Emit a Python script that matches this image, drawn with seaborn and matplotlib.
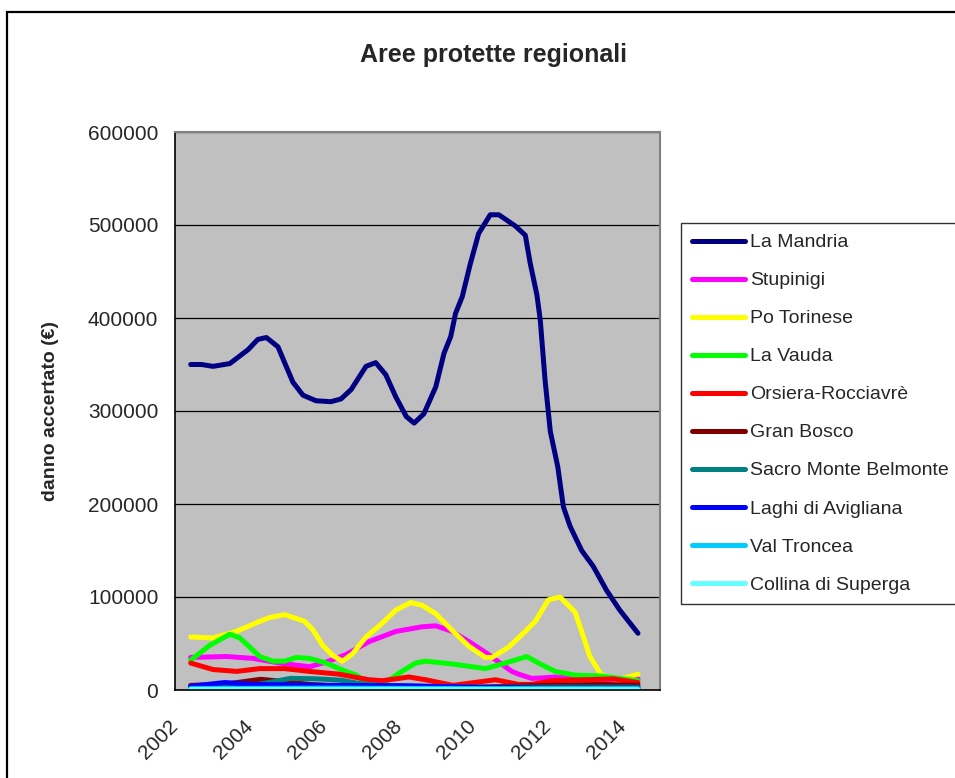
import numpy as np
import pandas as pd
import seaborn as sns
import matplotlib.pyplot as plt
from matplotlib.lines import Line2D
from matplotlib.patches import Rectangle

# --- DATI ---
aree = ['La Mandria', 'Stupinigi', 'Po Torinese', 'La Vauda', 'Orsiera-Rocciavrè',
        'Gran Bosco', 'Sacro Monte Belmonte', 'Laghi di Avigliana', 'Val Troncea',
        'Collina di Superga']
colori = ['#000080', '#FF00FF', '#FFFF00', '#00FF00', '#FF0000',
          '#800000', '#008080', '#0000FF', '#00CCFF', '#66FFFF']

mandria_anni = [2002.42, 2002.71, 2003.02, 2003.47, 2003.96, 2004.22, 2004.45, 2004.76,
                2005.16, 2005.43, 2005.78, 2006.18, 2006.45, 2006.72, 2007.12, 2007.38,
                2007.65, 2007.92, 2008.20, 2008.41, 2008.67, 2008.99, 2009.21, 2009.39,
                2009.52, 2009.70, 2009.92, 2010.14, 2010.45, 2010.68, 2011.12, 2011.39,
                2011.52, 2011.70, 2011.79, 2011.92, 2012.06, 2012.26, 2012.41, 2012.59,
                2012.90, 2013.21, 2013.57, 2013.92, 2014.41]
mandria_danno = [350000, 350000, 348000, 351000, 366000, 377000, 379000, 369000,
                 331000, 317000, 311000, 310000, 313000, 323000, 348000, 352000,
                 339000, 315000, 294000, 287000, 297000, 326000, 362000, 380000,
                 405000, 423000, 459000, 491000, 511000, 511000, 499000, 489000,
                 459000, 425000, 398000, 333000, 278000, 240000, 197000, 176000,
                 150000, 133000, 107000, 86000, 61000]

stupinigi_anni = [2002.42, 2003.38, 2004.09, 2004.80, 2005.60, 2006.05, 2006.58, 2007.20,
                  2007.92, 2008.63, 2008.99, 2009.43, 2009.88, 2010.41, 2010.68, 2011.03,
                  2011.21, 2011.56, 2011.84, 2012.19, 2012.99, 2014.41]
stupinigi_danno = [35000, 36000, 34000, 29000, 25000, 30000, 38000, 52000,
                   63000, 68000, 69000, 63000, 52000, 38000, 30000, 20000,
                   17000, 12500, 13000, 14000, 11000, 12000]

po_anni = [2002.42, 2003.02, 2003.65, 2004.22, 2004.54, 2004.94, 2005.47, 2005.69,
           2005.96, 2006.23, 2006.49, 2006.76, 2007.12, 2007.56, 2007.92, 2008.32,
           2008.63, 2008.99, 2009.43, 2009.88, 2010.32, 2010.50, 2010.94, 2011.39,
           2011.66, 2012.01, 2012.32, 2012.72, 2012.90, 2013.12, 2013.43, 2013.88,
           2014.41]
po_danno = [57000, 56000, 63000, 73000, 78000, 81000, 74000, 65000,
            48000, 37000, 31000, 39000, 57000, 72000, 86000, 94000,
            91000, 82000, 64000, 47000, 35000, 35000, 46000, 63000,
            74000, 97000, 100000, 84000, 63000, 36000, 16000, 11000,
            17000]

vauda_anni = [2002.42, 2002.93, 2003.47, 2003.74, 2004.27, 2004.62, 2004.94, 2005.25,
              2005.60, 2006.05, 2006.58, 2006.87, 2007.03, 2007.39, 2007.56, 2007.83,
              2008.00, 2008.45, 2008.72, 2009.43, 2010.32, 2010.77, 2011.43, 2011.74,
              2012.19, 2012.72, 2013.43, 2014.41]
vauda_danno = [32000, 48000, 60000, 56000, 36000, 31000, 31000, 35000,
               34000, 29000, 20000, 16000, 10000, 6000, 7000, 13000,
               18000, 29000, 31000, 28000, 23000, 28000, 36000, 29000,
               20000, 16000, 15000, 10000]

orsiera_anni = [2002.42, 2003.02, 2003.65, 2004.27, 2004.94, 2005.60, 2006.40, 2007.20,
                2007.56, 2008.27, 2008.72, 2009.45, 2010.59, 2011.21, 2011.56, 2012.10,
                2012.90, 2013.75, 2014.41]
orsiera_danno = [29000, 22000, 20000, 23000, 23000, 20000, 17000, 11000,
                 10000, 14000, 11000, 5000, 11000, 6000, 6000, 10000,
                 11000, 12000, 8000]

bosco_anni = [2002.42, 2003.30, 2004.30, 2004.94, 2005.60, 2006.50, 2008.00, 2010.00,
              2012.00, 2013.50, 2014.41]
bosco_danno = [5000, 6000, 11500, 9000, 6000, 4000, 3000, 3000, 5000, 6000, 5000]

belmonte_anni = [2002.42, 2003.50, 2004.10, 2005.10, 2005.80, 2006.45, 2006.93, 2007.47,
                 2008.50, 2010.00, 2012.00, 2014.41]
belmonte_danno = [2000, 3000, 5000, 12500, 12000, 10500, 7000, 5000, 4000, 3000, 3000, 3000]

laghi_anni = [2002.42, 2003.33, 2004.10, 2006.00, 2008.20, 2010.00, 2012.00, 2014.41]
laghi_danno = [4000, 8000, 6000, 5000, 4500, 3000, 2000, 2000]

troncea_anni = [2002.42, 2006.00, 2010.00, 2014.41]
troncea_danno = [1500, 2000, 1500, 1500]

superga_anni = [2002.42, 2008.00, 2014.41]
superga_danno = [500, 500, 300]

anni_ticks = list(range(2002, 2016))
y_ticks = [0, 100000, 200000, 300000, 400000, 500000, 600000]


def costruisci_tabella():
    serie = [(mandria_anni, mandria_danno), (stupinigi_anni, stupinigi_danno),
             (po_anni, po_danno), (vauda_anni, vauda_danno),
             (orsiera_anni, orsiera_danno), (bosco_anni, bosco_danno),
             (belmonte_anni, belmonte_danno), (laghi_anni, laghi_danno),
             (troncea_anni, troncea_danno), (superga_anni, superga_danno)]
    parti = []
    for nome, (x, y) in zip(aree, serie):
        parti.append(pd.DataFrame({'anno': x, 'danno': y, 'area': nome}))
    return pd.concat(parti, ignore_index=True)


def main():
    sns.set_style('white')
    plt.rcParams['font.family'] = ['Liberation Sans', 'DejaVu Sans']

    df = costruisci_tabella()

    fig = plt.figure(figsize=(9.55, 7.78), dpi=100)
    ax = fig.add_axes([175 / 955, 1 - 690 / 778, 485 / 955, 558 / 778])
    ax.set_facecolor('#C0C0C0')

    sns.lineplot(data=df, x='anno', y='danno', hue='area', hue_order=aree,
                 palette=dict(zip(aree, colori)), estimator=None, linewidth=3.6,
                 legend=False, ax=ax, solid_capstyle='round', solid_joinstyle='round')

    ax.set_xlim(2002, 2015)
    ax.set_ylim(0, 600000)
    ax.set_xticks(anni_ticks)
    ax.set_xticklabels([str(a) if a % 2 == 0 and a < 2015 else '' for a in anni_ticks],
                       rotation=45, ha='right', va='center', rotation_mode='anchor',
                       fontsize=15)
    ax.set_yticks(y_ticks)
    ax.set_yticklabels([str(v) for v in y_ticks], fontsize=15)
    ax.tick_params(axis='x', direction='out', length=5, width=1, color='black', pad=19)
    ax.tick_params(axis='y', direction='out', length=6, width=1, color='black', pad=6)
    ax.grid(axis='y', color='black', linewidth=0.9)
    ax.grid(axis='x', visible=False)
    ax.set_axisbelow(True)

    for lato in ['left', 'bottom']:
        ax.spines[lato].set_color('black')
        ax.spines[lato].set_linewidth(1.2)
    for lato in ['top', 'right']:
        ax.spines[lato].set_color('#808080')
        ax.spines[lato].set_linewidth(1.5)

    ax.set_xlabel('')
    ax.set_ylabel('danno accertato (€)', fontsize=14, fontweight='bold')
    ax.yaxis.set_label_coords(-0.239, 0.5)

    fig.text(493 / 955, 1 - 55 / 778, 'Aree protette regionali', ha='center', va='center',
             fontsize=18, fontweight='bold')

    # legenda esterna
    maniglie = [Line2D([0], [0], color=c, linewidth=3.6, solid_capstyle='round') for c in colori]
    leg = fig.legend(maniglie, aree, loc='upper left', bbox_to_anchor=(681 / 955, 1 - 223 / 778),
                     frameon=True, fancybox=False, fontsize=14, handlelength=2.75,
                     handletextpad=0.25, labelspacing=1.05, borderpad=0.55, borderaxespad=0)
    leg.get_frame().set_edgecolor('black')
    leg.get_frame().set_linewidth(1.0)
    leg.get_frame().set_facecolor('white')

    # bordo dell'area del grafico
    bordo = Rectangle((7 / 955, -0.1), 1.2, 1.1 - 12 / 778, transform=fig.transFigure,
                      fill=False, edgecolor='black', linewidth=1.6)
    fig.patches.append(bordo)

    fig.savefig('out.png', dpi=100)


if __name__ == '__main__':
    main()
